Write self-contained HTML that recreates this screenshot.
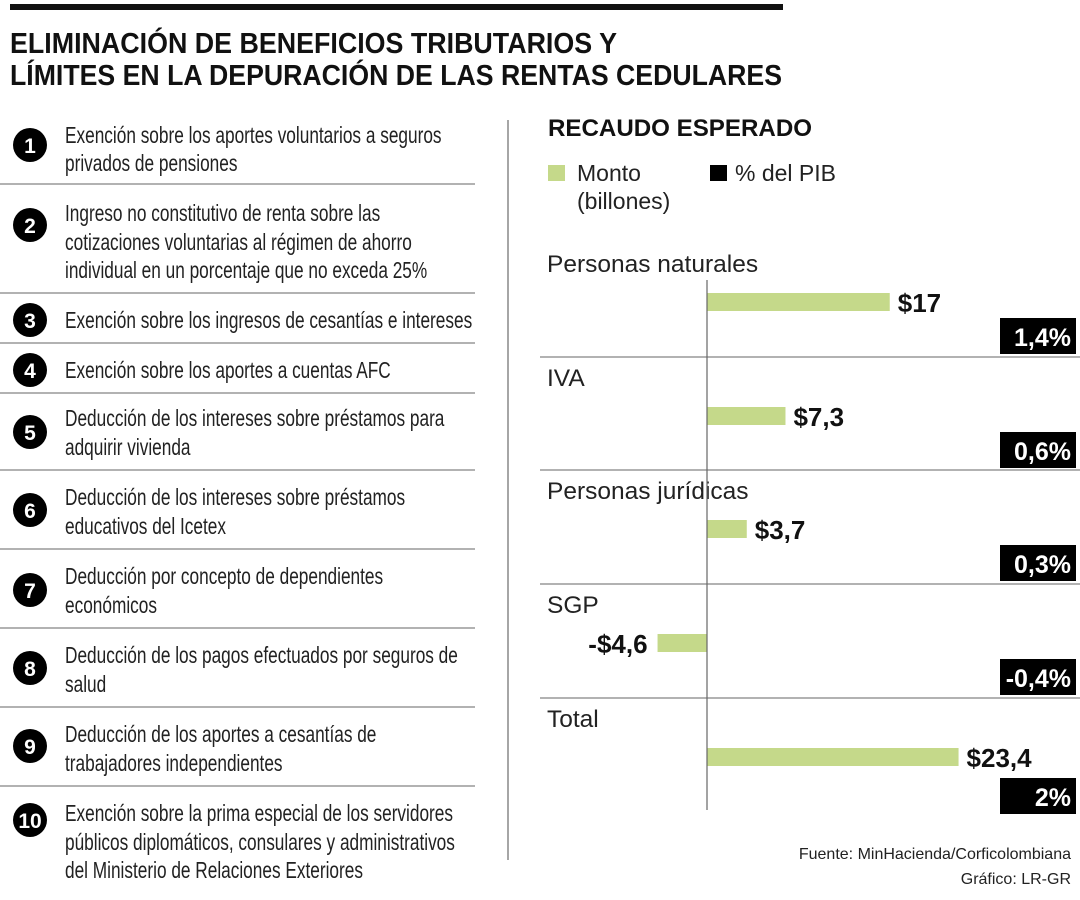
<!DOCTYPE html>
<html><head><meta charset="utf-8"><style>
html,body{margin:0;padding:0;background:#fff;}
svg{display:block;font-family:"Liberation Sans",sans-serif;}
</style></head><body>
<svg id="s" width="1080" height="900" viewBox="0 0 1080 900">
<rect x="10" y="4" width="773" height="6" fill="#111"/>
<text x="10" y="53" font-size="29" font-weight="bold" textLength="607" lengthAdjust="spacingAndGlyphs" fill="#111">ELIMINACIÓN DE BENEFICIOS TRIBUTARIOS Y</text>
<text x="10" y="85" font-size="29" font-weight="bold" textLength="772" lengthAdjust="spacingAndGlyphs" fill="#111">LÍMITES EN LA DEPURACIÓN DE LAS RENTAS CEDULARES</text>
<g id="list"></g>
<line x1="508" y1="120" x2="508" y2="860" stroke="#888" stroke-width="1.5"/>
<text x="548" y="136" font-size="24" font-weight="bold" textLength="264" lengthAdjust="spacingAndGlyphs" fill="#111">RECAUDO ESPERADO</text>
<rect x="548" y="165" width="17" height="16" fill="#c5d98a"/>
<text x="577" y="181" font-size="23" fill="#222">Monto</text>
<text x="577" y="209" font-size="23" fill="#222">(billones)</text>
<rect x="710" y="165" width="17" height="16" fill="#000"/>
<text x="735" y="181" font-size="23" fill="#222">% del PIB</text>
<g id="chart"></g>
<text x="1071" y="859" font-size="16" text-anchor="end" fill="#222">Fuente: MinHacienda/Corficolombiana</text>
<text x="1071" y="884" font-size="16" text-anchor="end" fill="#222">Gráfico: LR-GR</text>
</svg>
<script>
const NS="http://www.w3.org/2000/svg";
function mk(p,t,a){const e=document.createElementNS(NS,t);for(const k in a)e.setAttribute(k,a[k]);p.appendChild(e);return e;}
const items=[
 [145,[135,163],["Exención sobre los aportes voluntarios a seguros","privados de pensiones"],184],
 [225,[213,242,270],["Ingreso no constitutivo de renta sobre las","cotizaciones voluntarias al régimen de ahorro","individual en un porcentaje que no exceda 25%"],293],
 [320,[320],["Exención sobre los ingresos de cesantías e intereses"],343],
 [370,[370],["Exención sobre los aportes a cuentas AFC"],393],
 [432,[418,447],["Deducción de los intereses sobre préstamos para","adquirir vivienda"],470],
 [510,[497,526],["Deducción de los intereses sobre préstamos","educativos del Icetex"],549],
 [590,[576,605],["Deducción por concepto de dependientes","económicos"],628],
 [668,[655,684],["Deducción de los pagos efectuados por seguros de","salud"],707],
 [746,[734,763],["Deducción de los aportes a cesantías de","trabajadores independientes"],786],
 [820,[813,842,870],["Exención sobre la prima especial de los servidores","públicos diplomáticos, consulares y administrativos","del Ministerio de Relaciones Exteriores"],null]
];
const L=document.getElementById('list');
items.forEach((it,i)=>{
 const c=mk(L,'circle',{cx:30,cy:it[0],r:17,fill:'#000'});
 
 
 const n=mk(L,'text',{x:30,y:it[0]+8,'font-size':21,'font-weight':'bold',fill:'#fff','text-anchor':'middle'});
 n.textContent=String(i+1);
 
 
 it[2].forEach((s,j)=>{
  const g=mk(L,'g',{transform:`translate(65,${it[1][j]+8}) scale(0.75,1)`});
  const t=mk(g,'text',{x:0,y:0,'font-size':23,fill:'#222'});
  t.textContent=s;
  
  
 });
 if(it[3]){const l=mk(L,'line',{x1:0,x2:475,y1:it[3],y2:it[3],stroke:'#999','stroke-width':1.5});
  
  }
});
// chart data
const categories=["Personas naturales","IVA","Personas jurídicas","SGP","Total"];
const montoValues=[17,7.3,3.7,-4.6,23.4];
const montoLabels=["$17","$7,3","$3,7","-$4,6","$23,4"];
const pibLabels=["1,4%","0,6%","0,3%","-0,4%","2%"];
const C=document.getElementById('chart');
const x0=707, k=10.75;
function xs(v){return x0+v*k;}
const groupTop=[240,354,467,581,695];
categories.forEach((cat,i)=>{
 const top=groupTop[i];
 const t=mk(C,'text',{x:547,y:top+32,'font-size':24.5,fill:'#222'});t.textContent=cat;
 
 
 const v=montoValues[i];
 const by=top+53;
 const b=mk(C,'rect',{x:Math.min(xs(0),xs(v)),y:by,width:Math.abs(xs(v)-xs(0)),height:18,fill:'#c5d98a'});
 
 
 const lb=mk(C,'text',{x:v>=0?xs(v)+8:xs(v)-10,y:by+19,'font-size':26,'font-weight':'bold',fill:'#111','text-anchor':v>=0?'start':'end'});
 lb.textContent=montoLabels[i];
 
 
 const py=i===4?top+83:top+78;
 const r=mk(C,'rect',{x:1000,y:py,width:76,height:36,fill:'#000'});
 
 
 const pt=mk(C,'text',{x:1071,y:py+28,'font-size':25,'font-weight':'bold',fill:'#fff','text-anchor':'end'});
 pt.textContent=pibLabels[i];
 
 
 if(i<4){const s=mk(C,'line',{x1:540,x2:1080,y1:groupTop[i+1]+3,y2:groupTop[i+1]+3,stroke:'#999','stroke-width':1.5});
  
  }
});
const ax=mk(C,'line',{x1:x0,x2:x0,y1:280,y2:810,stroke:'#666','stroke-width':1.2});


</script>
</body></html>
